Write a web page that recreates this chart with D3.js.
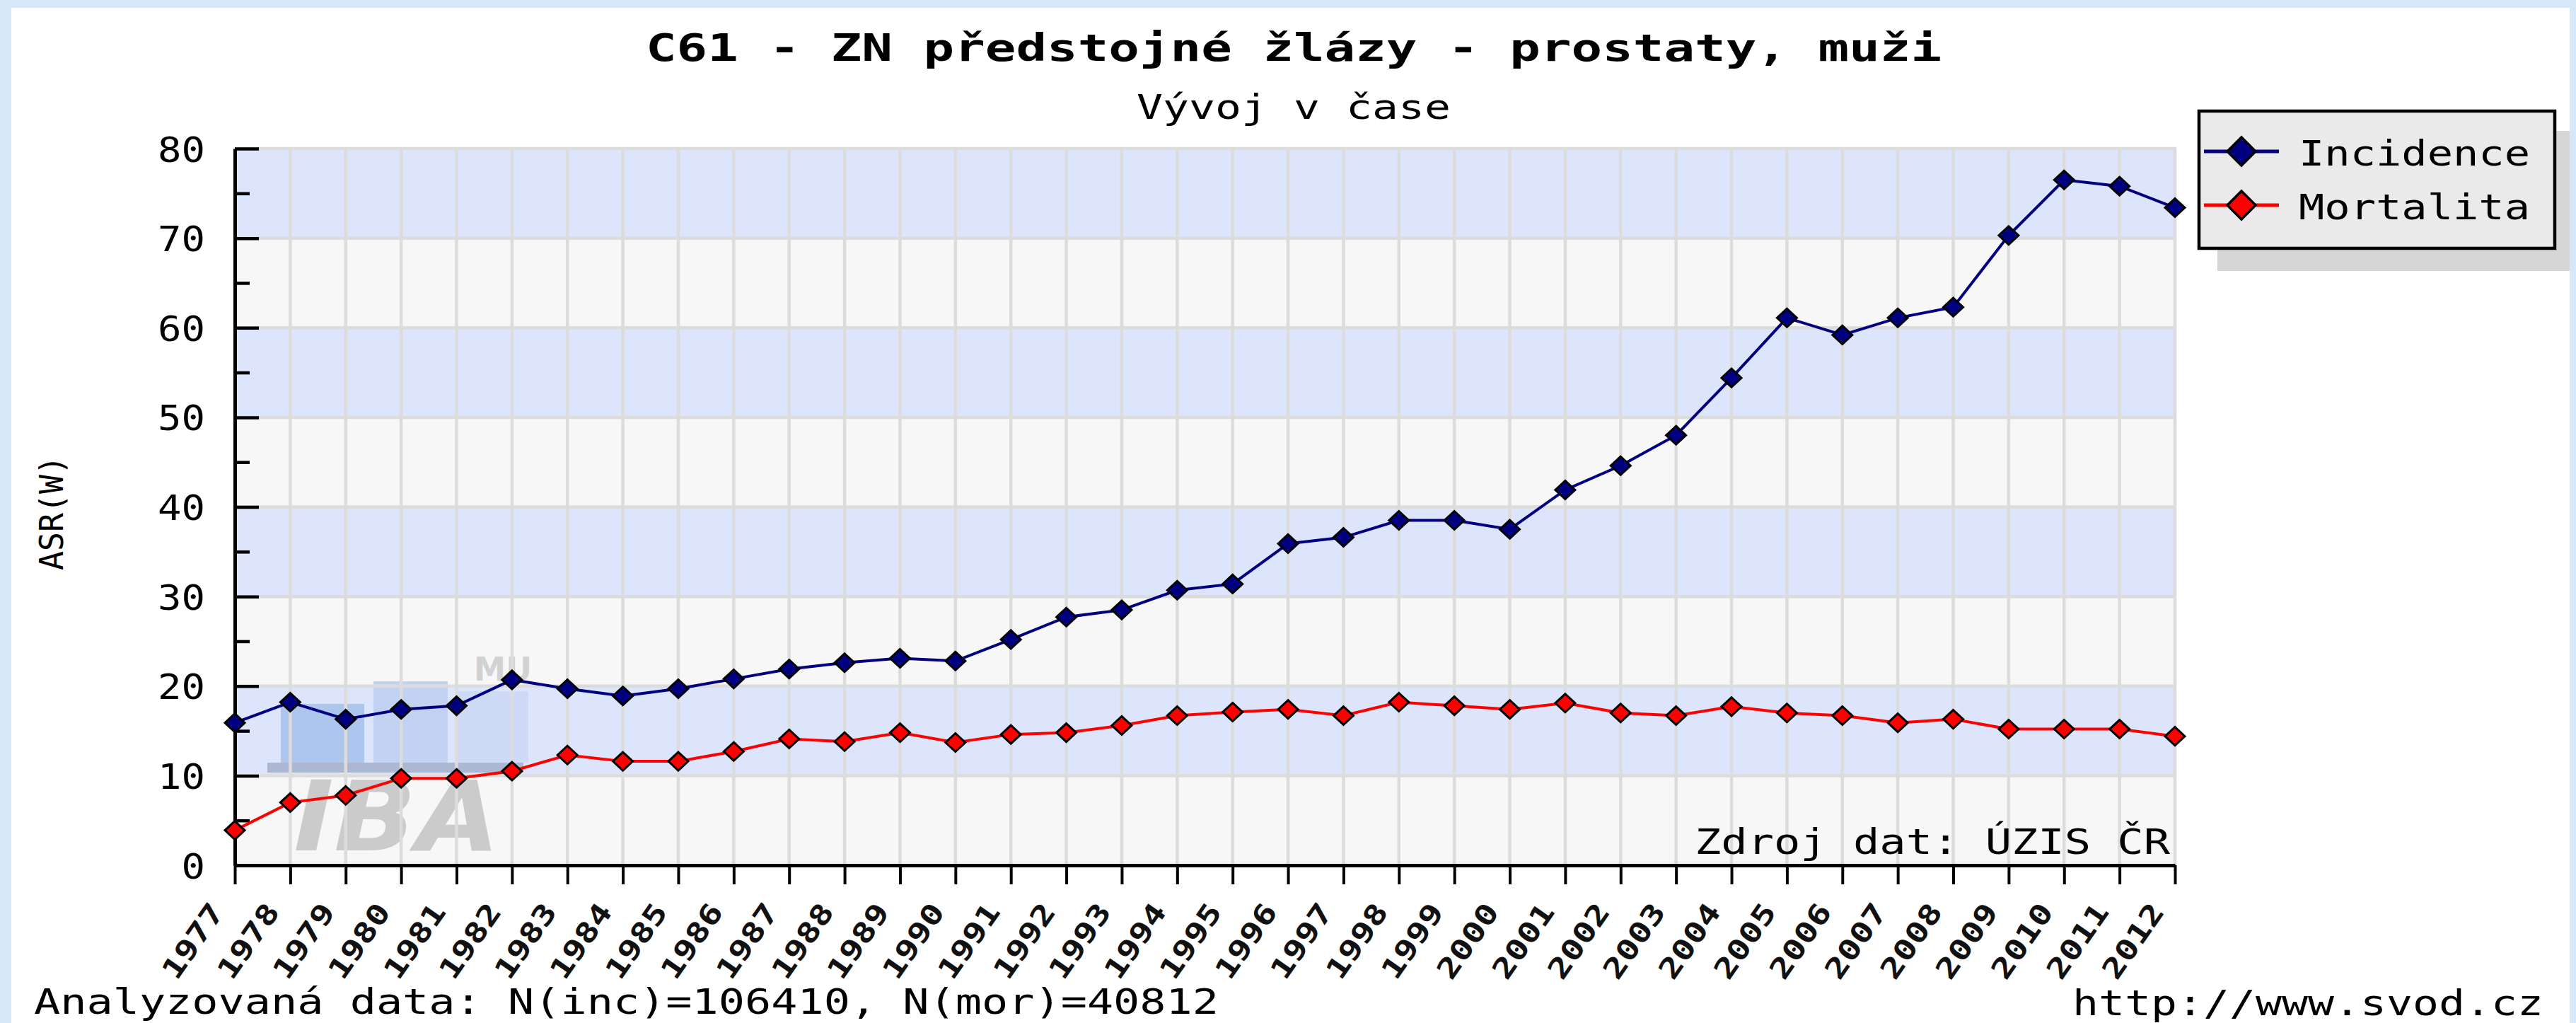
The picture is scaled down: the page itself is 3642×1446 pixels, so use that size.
<!DOCTYPE html>
<html>
<head>
<meta charset="utf-8">
<script src="https://cdn.jsdelivr.net/npm/d3@7"></script>
<style>
  html, body { margin: 0; padding: 0; background: #d6e7f8; }
  svg { display: block; }
  text { font-family: "DejaVu Sans Mono", monospace; fill: #000; }
</style>
</head>
<body>
<div id="chart"></div>
<script>
// data
var years = [1977, 1978, 1979, 1980, 1981, 1982, 1983, 1984, 1985, 1986, 1987, 1988,
             1989, 1990, 1991, 1992, 1993, 1994, 1995, 1996, 1997, 1998, 1999, 2000,
             2001, 2002, 2003, 2004, 2005, 2006, 2007, 2008, 2009, 2010, 2011, 2012];

var incidence = [15.9, 18.2, 16.3, 17.4, 17.8, 20.7, 19.7, 18.9, 19.7, 20.8, 21.9, 22.6,
                 23.1, 22.8, 25.2, 27.7, 28.5, 30.7, 31.4, 35.9, 36.6, 38.5, 38.5, 37.5,
                 41.9, 44.6, 48.0, 54.4, 61.1, 59.2, 61.1, 62.3, 70.3, 76.5, 75.8, 73.4];

var mortalita = [3.9, 7.0, 7.8, 9.7, 9.7, 10.5, 12.3, 11.6, 11.6, 12.7, 14.1, 13.8,
                 14.8, 13.7, 14.6, 14.8, 15.6, 16.7, 17.1, 17.4, 16.7, 18.2, 17.8, 17.4,
                 18.1, 17.0, 16.7, 17.7, 17.0, 16.7, 15.9, 16.3, 15.2, 15.2, 15.2, 14.4];

var seriesNames = ["Incidence", "Mortalita"];
var seriesColors = ["#000080", "#ff0000"];

var yMajor = [0, 10, 20, 30, 40, 50, 60, 70, 80];
var yMinor = [5, 15, 25, 35, 45, 55, 65, 75];

var titleText = "C61 - ZN předstojné žlázy - prostaty, muži";
var subtitleText = "Vývoj v čase";
var yLabel = "ASR(W)";
var sourceText = "Zdroj dat: ÚZIS ČR";
var footLeft = "Analyzovaná data: N(inc)=106410, N(mor)=40812";
var footRight = "http://www.svod.cz";

var width = 3642,
    height = 1446;

var plot = { left: 332, right: 3075, top: 210, bottom: 1223 };

var svg = d3.select("#chart").append("svg")
    .attr("width", width)
    .attr("height", height);

// page background, white panel
svg.append("rect").attr("width", width).attr("height", height).attr("fill", "#d6e7f8");
svg.append("rect")
    .attr("x", 16).attr("y", 11)
    .attr("width", 3633 - 16).attr("height", height - 11)
    .attr("fill", "#ffffff");

var x = d3.scaleLinear().domain([1977, 2012]).range([plot.left, plot.right]);
var y = d3.scaleLinear().domain([0, 80]).range([plot.bottom, plot.top]);

// bands
var bands = yMajor.slice(0, -1);
svg.append("g").selectAll("rect")
    .data(bands)
  .enter().append("rect")
    .attr("x", plot.left)
    .attr("width", plot.right - plot.left)
    .attr("y", function(d) { return y(d + 10); })
    .attr("height", function(d) { return y(d) - y(d + 10); })
    .attr("fill", function(d, i) { return i % 2 ? "#dde5fc" : "#f7f7f7"; });

// MU IBA watermark
var wm = svg.append("g");
wm.append("rect").attr("x", 378).attr("y", 1078).attr("width", 362).attr("height", 14).attr("fill", "#abb7d3");
wm.append("rect").attr("x", 397).attr("y", 995).attr("width", 118).attr("height", 83).attr("fill", "#adc6ee");
wm.append("rect").attr("x", 528).attr("y", 963).attr("width", 105).attr("height", 115).attr("fill", "#c1d2f3");
wm.append("rect").attr("x", 645).attr("y", 977).attr("width", 102).attr("height", 101).attr("fill", "#cfdbf6");
wm.append("text")
    .attr("x", 415).attr("y", 1202)
    .attr("textLength", 292).attr("lengthAdjust", "spacingAndGlyphs")
    .style("font-family", "'DejaVu Sans', sans-serif")
    .style("font-weight", "bold").style("font-style", "italic")
    .style("font-size", "138px").style("fill", "#cbcbcb")
    .text("IBA");
wm.append("text")
    .attr("x", 670).attr("y", 962)
    .attr("textLength", 82).attr("lengthAdjust", "spacingAndGlyphs")
    .style("font-family", "'DejaVu Sans', sans-serif")
    .style("font-weight", "bold")
    .style("font-size", "46px").style("fill", "#d2d2d2")
    .text("MU");

// grid
var grid = svg.append("g").attr("stroke", "#dcdcdc").attr("stroke-width", 4.5);
grid.selectAll(".hg")
    .data(yMajor.slice(1))
  .enter().append("line")
    .attr("x1", plot.left).attr("x2", plot.right + 2)
    .attr("y1", function(d) { return y(d); })
    .attr("y2", function(d) { return y(d); });
grid.selectAll(".vg")
    .data(years.slice(1))
  .enter().append("line")
    .attr("x1", function(d) { return x(d); })
    .attr("x2", function(d) { return x(d); })
    .attr("y1", plot.top).attr("y2", plot.bottom);

svg.append("text")
    .attr("x", 3068).attr("y", 1207)
    .attr("text-anchor", "end")
    .attr("textLength", 672).attr("lengthAdjust", "spacingAndGlyphs")
    .style("font-size", "50px")
    .text(sourceText);

// axes
var yAxis = d3.axisLeft(y)
    .tickValues(yMajor)
    .tickSizeInner(-34)
    .tickSizeOuter(0)
    .tickPadding(42);

var gy = svg.append("g")
    .attr("transform", "translate(" + plot.left + ",0)")
    .call(yAxis);
gy.select(".domain").attr("stroke", "#000").attr("stroke-width", 5);
gy.selectAll(".tick line").attr("stroke", "#000").attr("stroke-width", 4.5);
gy.selectAll(".tick text")
    .attr("dy", "0.36em")
    .attr("textLength", function(d) { return String(d).length * 33.5; })
    .attr("lengthAdjust", "spacingAndGlyphs")
    .style("font-family", "'DejaVu Sans Mono', monospace")
    .style("font-size", "50px")
    .style("fill", "#000");

var gyMinor = svg.append("g")
    .attr("transform", "translate(" + plot.left + ",0)")
    .call(d3.axisLeft(y).tickValues(yMinor).tickSizeInner(-21).tickSizeOuter(0).tickFormat(""));
gyMinor.select(".domain").remove();
gyMinor.selectAll(".tick line").attr("stroke", "#000").attr("stroke-width", 4.5);

var xAxis = d3.axisBottom(x)
    .tickValues(years)
    .tickSizeInner(27)
    .tickSizeOuter(0)
    .tickFormat(d3.format("d"));

var gx = svg.append("g")
    .attr("transform", "translate(0," + plot.bottom + ")")
    .call(xAxis);
gx.select(".domain").attr("stroke", "#000").attr("stroke-width", 5);
gx.selectAll(".tick line").attr("stroke", "#000").attr("stroke-width", 4);
gx.selectAll(".tick text")
    .attr("x", 0).attr("y", 0).attr("dy", 0)
    .attr("text-anchor", "end")
    .attr("transform", "translate(-14,66) rotate(-55)")
    .attr("textLength", 120)
    .attr("lengthAdjust", "spacingAndGlyphs")
    .style("font-family", "'DejaVu Sans Mono', monospace")
    .style("font-size", "40px")
    .style("font-weight", "bold")
    .style("fill", "#111");

// series
var series = [incidence, mortalita];
var line = d3.line()
    .x(function(d, i) { return x(years[i]); })
    .y(function(d) { return y(d); });

var diamond = "M0,-13L14,0L0,13L-14,0Z";

series.forEach(function(vals, s) {
  svg.append("path")
      .datum(vals)
      .attr("d", line)
      .attr("fill", "none")
      .attr("stroke", seriesColors[s])
      .attr("stroke-width", 4);
});
series.forEach(function(vals, s) {
  svg.append("g").selectAll("path")
      .data(vals)
    .enter().append("path")
      .attr("d", diamond)
      .attr("transform", function(d, i) { return "translate(" + x(years[i]) + "," + y(d) + ")"; })
      .attr("fill", seriesColors[s])
      .attr("stroke", "#000")
      .attr("stroke-width", 3);
});

// titles
svg.append("text")
    .attr("x", 1829).attr("y", 86)
    .attr("text-anchor", "middle")
    .attr("textLength", 1832).attr("lengthAdjust", "spacingAndGlyphs")
    .style("font-size", "54px").style("font-weight", "bold")
    .text(titleText);

svg.append("text")
    .attr("x", 1829).attr("y", 168)
    .attr("text-anchor", "middle")
    .attr("textLength", 444).attr("lengthAdjust", "spacingAndGlyphs")
    .style("font-size", "48px")
    .text(subtitleText);

svg.append("text")
    .attr("transform", "translate(89,725) rotate(-90)")
    .attr("text-anchor", "middle")
    .attr("textLength", 162).attr("lengthAdjust", "spacingAndGlyphs")
    .style("font-size", "46px")
    .text(yLabel);

// footer
svg.append("text")
    .attr("x", 48).attr("y", 1433)
    .attr("textLength", 1675).attr("lengthAdjust", "spacingAndGlyphs")
    .style("font-size", "50px")
    .text(footLeft);

svg.append("text")
    .attr("x", 3596).attr("y", 1435)
    .attr("text-anchor", "end")
    .attr("textLength", 666).attr("lengthAdjust", "spacingAndGlyphs")
    .style("font-size", "50px")
    .text(footRight);

// legend
var lg = svg.append("g");
lg.append("rect")
    .attr("x", 3135).attr("y", 185)
    .attr("width", 507).attr("height", 198)
    .attr("fill", "#d6d6d6");
lg.append("rect")
    .attr("x", 3109).attr("y", 157)
    .attr("width", 503).attr("height", 194)
    .attr("fill", "#eaeaea")
    .attr("stroke", "#000")
    .attr("stroke-width", 4.5);

var rows = lg.selectAll(".row")
    .data(seriesNames)
  .enter().append("g")
    .attr("transform", function(d, i) { return "translate(0," + (214 + i * 76) + ")"; });
rows.append("line")
    .attr("x1", 3116).attr("x2", 3222)
    .attr("stroke", function(d, i) { return seriesColors[i]; })
    .attr("stroke-width", 5);
rows.append("path")
    .attr("d", "M0,-20L20,0L0,20L-20,0Z")
    .attr("transform", "translate(3169,0)")
    .attr("fill", function(d, i) { return seriesColors[i]; })
    .attr("stroke", "#000")
    .attr("stroke-width", 3.5);
rows.append("text")
    .attr("x", 3250).attr("y", 20)
    .attr("textLength", 327).attr("lengthAdjust", "spacingAndGlyphs")
    .style("font-size", "50px")
    .text(function(d) { return d; });

// right page border over the shadow
svg.append("rect")
    .attr("x", 3633).attr("y", 0)
    .attr("width", width - 3633).attr("height", height)
    .attr("fill", "#d6e7f8");
</script>
</body>
</html>
